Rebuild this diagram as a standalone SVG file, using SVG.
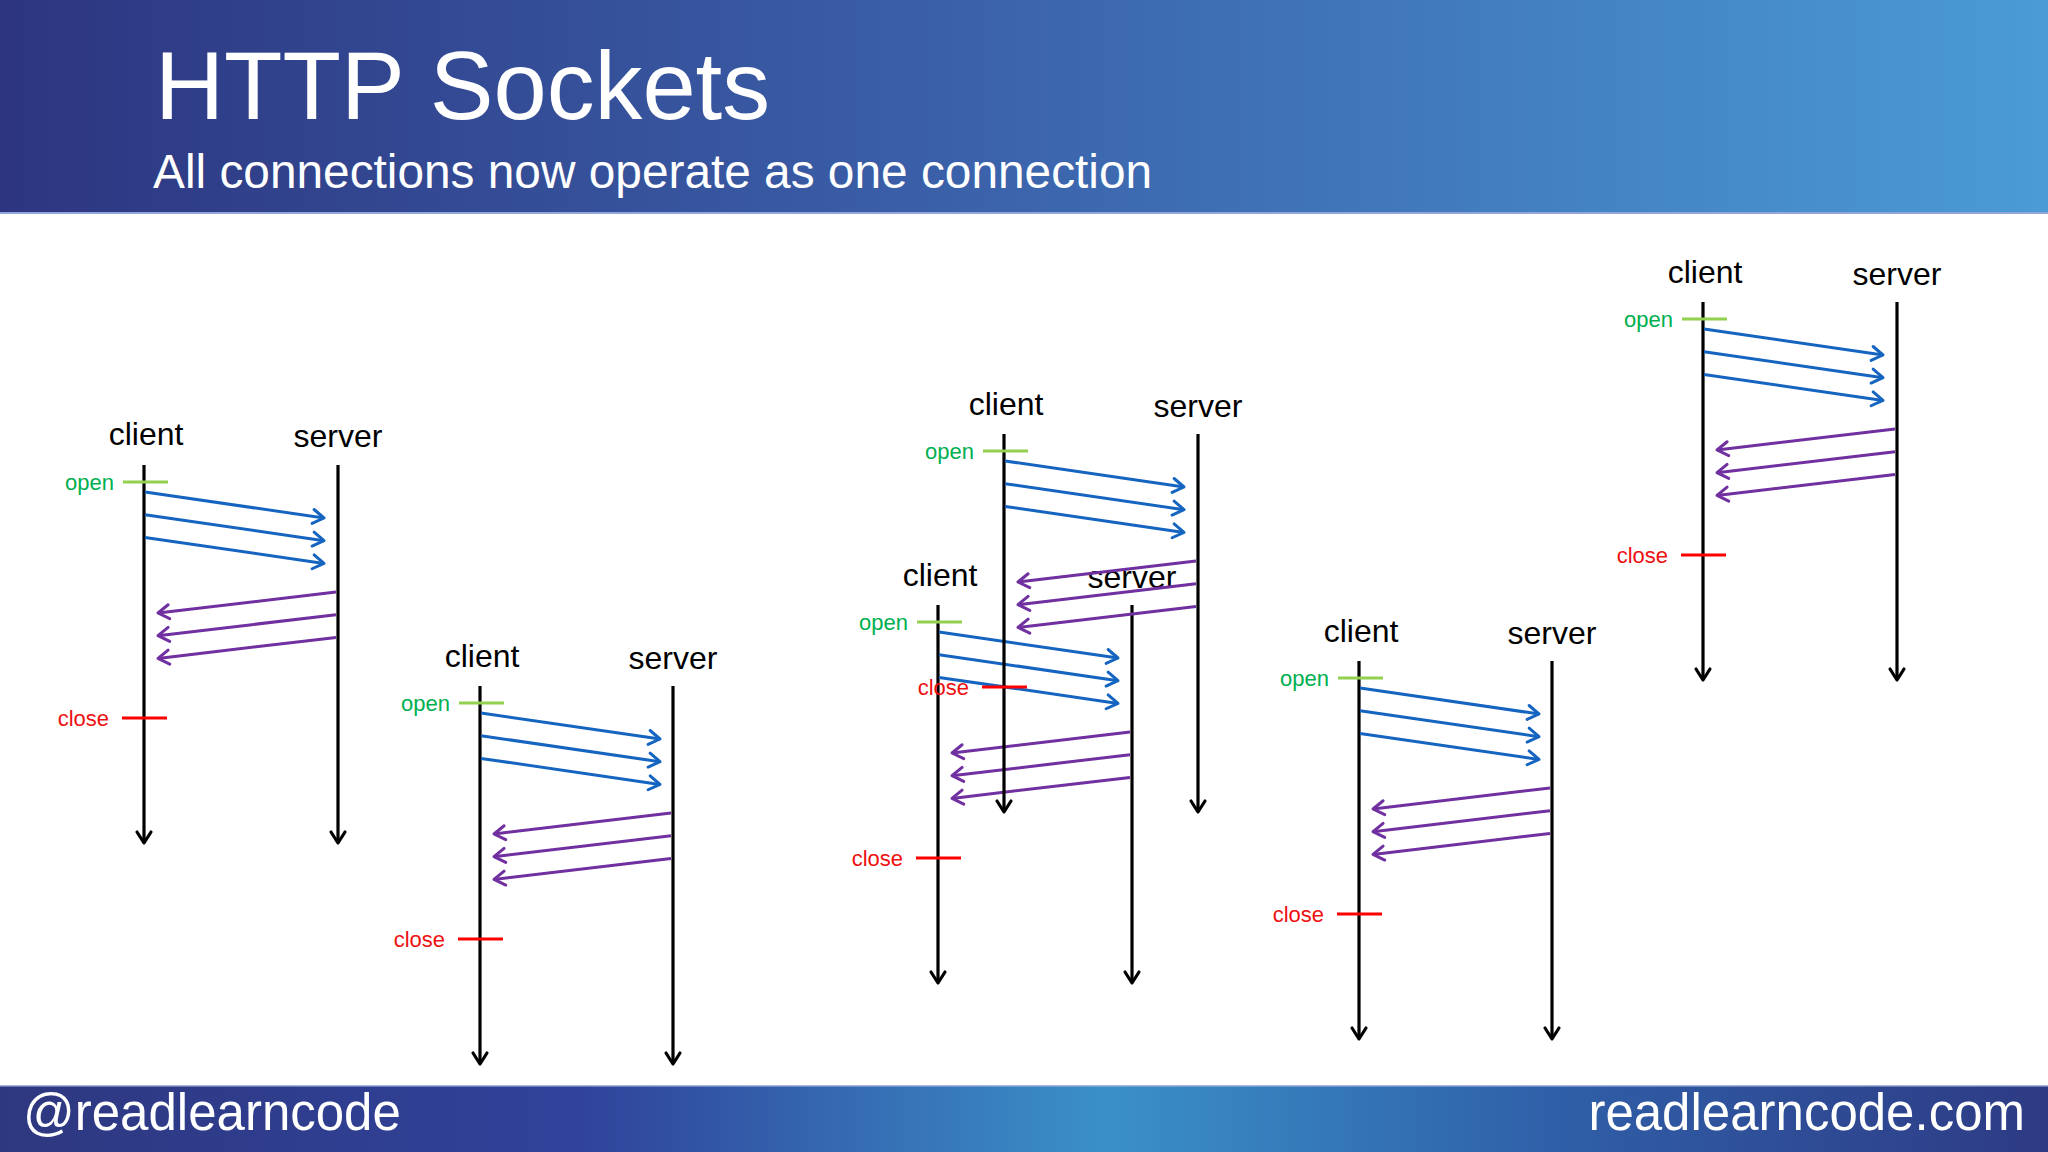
<svg xmlns="http://www.w3.org/2000/svg" width="2048" height="1152" viewBox="0 0 2048 1152">
  <defs>
    <linearGradient id="hdr" x1="0" y1="0" x2="1" y2="0">
      <stop offset="0" stop-color="#2d3580"/>
      <stop offset="0.45" stop-color="#3a5fa8"/>
      <stop offset="1" stop-color="#4a9bd6"/>
    </linearGradient>
    <linearGradient id="ftr" x1="0" y1="0" x2="1" y2="0">
      <stop offset="0" stop-color="#2e3880"/>
      <stop offset="0.28" stop-color="#30429a"/>
      <stop offset="0.54" stop-color="#3a90c8"/>
      <stop offset="0.76" stop-color="#2f5fa8"/>
      <stop offset="1" stop-color="#2e3a84"/>
    </linearGradient>
    <marker id="ak" markerUnits="userSpaceOnUse" orient="auto" markerWidth="30" markerHeight="30" viewBox="-15 -15 30 30" refX="0" refY="0" overflow="visible">
      <path d="M-11,-7 L0,0 L-11,7" fill="none" stroke="#000" stroke-width="3.2" stroke-linecap="round" stroke-linejoin="round"/>
    </marker>
    <marker id="ab" markerUnits="userSpaceOnUse" orient="auto" markerWidth="30" markerHeight="30" viewBox="-15 -15 30 30" refX="0" refY="0" overflow="visible">
      <path d="M-11,-7 L0,0 L-11,7" fill="none" stroke="#1565c0" stroke-width="3" stroke-linecap="round" stroke-linejoin="round"/>
    </marker>
    <marker id="ap" markerUnits="userSpaceOnUse" orient="auto" markerWidth="30" markerHeight="30" viewBox="-15 -15 30 30" refX="0" refY="0" overflow="visible">
      <path d="M-11,-7 L0,0 L-11,7" fill="none" stroke="#7030a0" stroke-width="3" stroke-linecap="round" stroke-linejoin="round"/>
    </marker>
  </defs>
  <style>
    .lbl { font-family: "Liberation Sans", Arial, sans-serif; font-size: 32px; fill: #000; text-anchor: middle; }
    .open { font-family: "Liberation Sans", Arial, sans-serif; font-size: 22px; fill: #00b050; text-anchor: end; }
    .close { font-family: "Liberation Sans", Arial, sans-serif; font-size: 22px; fill: #ee1111; text-anchor: end; }
    .life { stroke: #000; stroke-width: 3.2; fill: none; marker-end: url(#ak); }
    .tick-o { stroke: #92d050; stroke-width: 3; }
    .tick-c { stroke: #ff0000; stroke-width: 3; }
    .req { stroke: #1565c0; stroke-width: 3; fill: none; marker-end: url(#ab); }
    .res { stroke: #7030a0; stroke-width: 3; fill: none; marker-end: url(#ap); }
    .hd { font-family: "Liberation Sans", Arial, sans-serif; fill: #fff; }
  </style>

  <rect x="0" y="0" width="2048" height="1152" fill="#fff"/>

  <g id="header">
    <rect x="0" y="0" width="2048" height="213" fill="url(#hdr)"/>
    <rect x="0" y="212" width="2048" height="2" fill="#93a6dc"/>
    <text class="hd" x="155" y="119" font-size="95.7">HTTP Sockets</text>
    <text class="hd" x="153" y="188" font-size="47.8">All connections now operate as one connection</text>
  </g>

  <g id="footer">
    <rect x="0" y="1085" width="2048" height="67" fill="url(#ftr)"/>
    <rect x="0" y="1085" width="2048" height="1.5" fill="#a9b6de"/>
    <text class="hd" x="23" y="1130" font-size="51">@readlearncode</text>
    <text class="hd" x="2025" y="1130" font-size="51" text-anchor="end">readlearncode.com</text>
  </g>

  <!-- Diagram 1 -->
  <g id="diagram1" transform="translate(144,465)">
    <text class="lbl" x="2" y="-20">client</text>
    <text class="lbl" x="194" y="-18">server</text>
    <g id="d1-connectors">
      <path class="life" d="M0,0 V378"/>
      <path class="life" d="M194,0 V378"/>
      <path class="req" d="M1,27 L180,53"/>
      <path class="req" d="M1,49.7 L180,75.7"/>
      <path class="req" d="M1,72.4 L180,98.4"/>
      <path class="res" d="M192,127 L14,148"/>
      <path class="res" d="M192,149.7 L14,170.7"/>
      <path class="res" d="M192,172.4 L14,193.4"/>
    </g>
    <line class="tick-o" x1="-21" y1="17" x2="24" y2="17"/>
    <text class="open" x="-30" y="25">open</text>
    <line class="tick-c" x1="-22" y1="253" x2="23" y2="253"/>
    <text class="close" x="-35" y="261">close</text>
  </g>

  <!-- Diagram 2 -->
  <g id="diagram2" transform="translate(480,686)">
    <text class="lbl" x="2" y="-19">client</text>
    <text class="lbl" x="193" y="-17">server</text>
    <g id="d2-connectors">
      <path class="life" d="M0,0 V378"/>
      <path class="life" d="M193,0 V378"/>
      <path class="req" d="M1,27 L180,53"/>
      <path class="req" d="M1,49.7 L180,75.7"/>
      <path class="req" d="M1,72.4 L180,98.4"/>
      <path class="res" d="M191,127 L14,148"/>
      <path class="res" d="M191,149.7 L14,170.7"/>
      <path class="res" d="M191,172.4 L14,193.4"/>
    </g>
    <line class="tick-o" x1="-21" y1="17" x2="24" y2="17"/>
    <text class="open" x="-30" y="25">open</text>
    <line class="tick-c" x1="-22" y1="253" x2="23" y2="253"/>
    <text class="close" x="-35" y="261">close</text>
  </g>

  <!-- Diagram 3 (lower, drawn first) -->
  <g id="diagram3b" transform="translate(938,605)">
    <text class="lbl" x="2" y="-19">client</text>
    <text class="lbl" x="194" y="-17">server</text>
    <g id="d3b-connectors">
      <path class="life" d="M0,0 V378"/>
      <path class="life" d="M194,0 V378"/>
      <path class="req" d="M1,27 L180,53"/>
      <path class="req" d="M1,49.7 L180,75.7"/>
      <path class="req" d="M1,72.4 L180,98.4"/>
      <path class="res" d="M192,127 L14,148"/>
      <path class="res" d="M192,149.7 L14,170.7"/>
      <path class="res" d="M192,172.4 L14,193.4"/>
    </g>
    <line class="tick-o" x1="-21" y1="17" x2="24" y2="17"/>
    <text class="open" x="-30" y="25">open</text>
    <line class="tick-c" x1="-22" y1="253" x2="23" y2="253"/>
    <text class="close" x="-35" y="261">close</text>
  </g>

  <!-- Diagram 3 (upper) -->
  <g id="diagram3a" transform="translate(1004,434)">
    <text class="lbl" x="2" y="-19">client</text>
    <text class="lbl" x="194" y="-17">server</text>
    <g id="d3a-connectors">
      <path class="life" d="M0,0 V378"/>
      <path class="life" d="M194,0 V378"/>
      <path class="req" d="M1,27 L180,53"/>
      <path class="req" d="M1,49.7 L180,75.7"/>
      <path class="req" d="M1,72.4 L180,98.4"/>
      <path class="res" d="M192,127 L14,148"/>
      <path class="res" d="M192,149.7 L14,170.7"/>
      <path class="res" d="M192,172.4 L14,193.4"/>
    </g>
    <line class="tick-o" x1="-21" y1="17" x2="24" y2="17"/>
    <text class="open" x="-30" y="25">open</text>
    <line class="tick-c" x1="-22" y1="253" x2="23" y2="253"/>
    <text class="close" x="-35" y="261">close</text>
  </g>

  <!-- Diagram 4 -->
  <g id="diagram4" transform="translate(1359,661)">
    <text class="lbl" x="2" y="-19">client</text>
    <text class="lbl" x="193" y="-17">server</text>
    <g id="d4-connectors">
      <path class="life" d="M0,0 V378"/>
      <path class="life" d="M193,0 V378"/>
      <path class="req" d="M1,27 L180,53"/>
      <path class="req" d="M1,49.7 L180,75.7"/>
      <path class="req" d="M1,72.4 L180,98.4"/>
      <path class="res" d="M191,127 L14,148"/>
      <path class="res" d="M191,149.7 L14,170.7"/>
      <path class="res" d="M191,172.4 L14,193.4"/>
    </g>
    <line class="tick-o" x1="-21" y1="17" x2="24" y2="17"/>
    <text class="open" x="-30" y="25">open</text>
    <line class="tick-c" x1="-22" y1="253" x2="23" y2="253"/>
    <text class="close" x="-35" y="261">close</text>
  </g>

  <!-- Diagram 5 -->
  <g id="diagram5" transform="translate(1703,302)">
    <text class="lbl" x="2" y="-19">client</text>
    <text class="lbl" x="194" y="-17">server</text>
    <g id="d5-connectors">
      <path class="life" d="M0,0 V378"/>
      <path class="life" d="M194,0 V378"/>
      <path class="req" d="M1,27 L180,53"/>
      <path class="req" d="M1,49.7 L180,75.7"/>
      <path class="req" d="M1,72.4 L180,98.4"/>
      <path class="res" d="M192,127 L14,148"/>
      <path class="res" d="M192,149.7 L14,170.7"/>
      <path class="res" d="M192,172.4 L14,193.4"/>
    </g>
    <line class="tick-o" x1="-21" y1="17" x2="24" y2="17"/>
    <text class="open" x="-30" y="25">open</text>
    <line class="tick-c" x1="-22" y1="253" x2="23" y2="253"/>
    <text class="close" x="-35" y="261">close</text>
  </g>
</svg>
